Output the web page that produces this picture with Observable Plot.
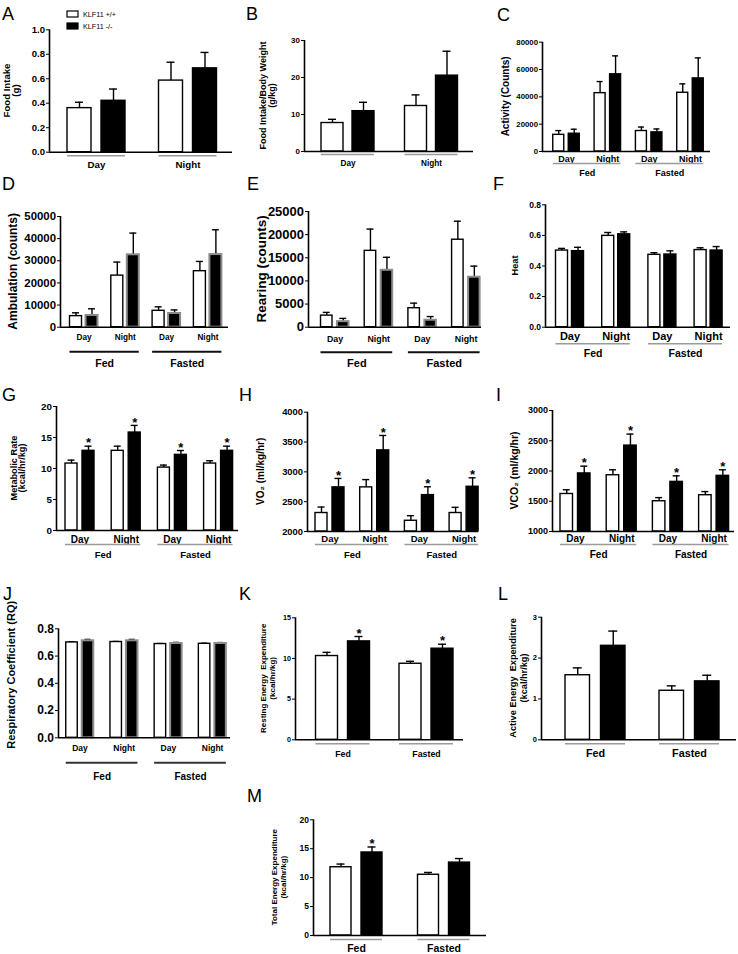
<!DOCTYPE html>
<html><head><meta charset="utf-8">
<script src="https://cdn.jsdelivr.net/npm/d3@7"></script>
<script src="https://cdn.jsdelivr.net/npm/@observablehq/plot@0.6"></script>
<style>
body{margin:0;background:#fff;}
#fig{position:relative;width:738px;height:954px;overflow:hidden;background:#fff;font-family:"Liberation Sans",Arial,sans-serif;}
.panel{position:absolute;}
.panel svg{overflow:visible;max-width:none;}
#overlay{position:absolute;left:0;top:0;pointer-events:none;}
</style></head><body><div id="fig"></div>
<script>
const FONT = '"Liberation Sans", Arial, Helvetica, sans-serif';

// ---- shared categories ----
const genotypes = ["KLF11 +/+", "KLF11 -/-"];
const periods = ["Day", "Night"];
const feedStates = ["Fed", "Fasted"];
const periods4 = ["Day", "Night", "Day", "Night"];

// ---- A: Food intake (g) ----
const A_wt = [0.36, 0.585], A_wtErr = [0.048, 0.15];
const A_ko = [0.42, 0.685], A_koErr = [0.096, 0.13];
const A_ticks = [0, 0.2, 0.4, 0.6, 0.8, 1.0];
// ---- B: Food intake / body weight ----
const B_wt = [7.7, 12.3], B_wtErr = [1.0, 3.0];
const B_ko = [10.9, 20.5], B_koErr = [2.4, 6.6];
const B_ticks = [0, 10, 20, 30];
// ---- C: Activity ----
const C_wt = [12200, 42700, 15000, 43000], C_wtErr = [3100, 8500, 2900, 6500];
const C_ko = [13000, 56500, 14000, 53500], C_koErr = [3300, 13500, 2500, 15000];
const C_ticks = [0, 20000, 40000, 60000, 80000];
// ---- D: Ambulation ----
const D_wt = [5000, 23300, 7400, 25300], D_wtErr = [1500, 6100, 1800, 4400];
const D_ko = [5300, 32700, 6200, 32800], D_koErr = [3000, 9800, 1600, 11200];
const D_ticks = [0, 10000, 20000, 30000, 40000, 50000];
// ---- E: Rearing ----
const E_wt = [2500, 16500, 4100, 18900], E_wtErr = [700, 4700, 1100, 4000];
const E_ko = [1200, 12300, 1500, 10800], E_koErr = [700, 2800, 800, 2400];
const E_ticks = [0, 5000, 10000, 15000, 20000, 25000];
// ---- F: Heat ----
const F_wt = [0.501, 0.597, 0.473, 0.504], F_wtErr = [0.014, 0.022, 0.014, 0.015];
const F_ko = [0.497, 0.607, 0.475, 0.501], F_koErr = [0.025, 0.016, 0.024, 0.026];
const F_ticks = [0, 0.2, 0.4, 0.6, 0.8];
// ---- G: Metabolic rate ----
const G_wt = [10.8, 12.85, 10.15, 10.8], G_wtErr = [0.55, 0.75, 0.4, 0.45];
const G_ko = [12.85, 15.8, 12.2, 12.85], G_koErr = [0.75, 1.15, 0.7, 0.75];
const G_stars = [true, true, true, true];
const G_ticks = [0, 5, 10, 15, 20];
// ---- H: VO2 ----
const H_wt = [2310, 2740, 2180, 2310], H_wtErr = [100, 130, 85, 95];
const H_ko = [2740, 3360, 2610, 2750], H_koErr = [150, 250, 140, 150];
const H_stars = [true, true, true, true];
const H_ticks = [2000, 2500, 3000, 3500, 4000];
// ---- I: VCO2 ----
const I_wt = [1620, 1930, 1500, 1600], I_wtErr = [70, 90, 60, 60];
const I_ko = [1960, 2420, 1820, 1920], I_koErr = [120, 190, 100, 100];
const I_stars = [true, true, true, true];
const I_ticks = [1000, 1500, 2000, 2500, 3000];
// ---- J: RQ ----
const J_wt = [0.700, 0.703, 0.688, 0.690], J_wtErr = [0.005, 0.004, 0.004, 0.004];
const J_ko = [0.712, 0.712, 0.692, 0.692], J_koErr = [0.010, 0.010, 0.008, 0.007];
const J_ticks = [0, 0.2, 0.4, 0.6, 0.8];
// ---- K: Resting EE ----
const K_wt = [10.3, 9.35], K_wtErr = [0.45, 0.3];
const K_ko = [12.1, 11.2], K_koErr = [0.6, 0.55];
const K_stars = [true, true];
const K_ticks = [0, 5, 10, 15];
// ---- L: Active EE ----
const L_wt = [1.58, 1.2], L_wtErr = [0.18, 0.12];
const L_ko = [2.3, 1.43], L_koErr = [0.36, 0.15];
const L_ticks = [0, 1, 2, 3];
// ---- M: Total EE ----
const M_wt = [11.8, 10.5], M_wtErr = [0.55, 0.4];
const M_ko = [14.35, 12.6], M_koErr = [0.95, 0.7];
const M_stars = [true, false];
const M_ticks = [0, 5, 10, 15, 20];

const f1 = d3.format(".1f"), f0 = d3.format("d");

const panels = [
  {id:"A", conds: periods, wt:A_wt, wtErr:A_wtErr, ko:A_ko, koErr:A_koErr, domain:[0,1], ticks:A_ticks, fmt:f1, ylabel:["Food Intake","(g)"],
   L:{left:0, axisX:49, endX:232, yTop:29.3, yBot:151.7, c0:96, sp:91.5, barW:24, gap:10, cap:8, tickFs:9.6, ylabX:11, ylabFs:9.6, lh:0.92, condFs:9.7, condDy:12.5, ulDy:3.5, ulColor:"#9a9a9a", ulW:1.5}},
  {id:"B", conds: periods, wt:B_wt, wtErr:B_wtErr, ko:B_ko, koErr:B_koErr, domain:[0,30], ticks:B_ticks, fmt:f0, ylabel:["Food Intake/Body Weight","(g/kg)"],
   L:{left:246, axisX:304, endX:473, yTop:40, yBot:151, c0:347.5, sp:83.5, barW:22, gap:9, cap:8, tickFs:8, ylabX:267.5, ylabFs:9, lh:1.05, condFs:8.2, condDy:12, ulDy:3, ulColor:"#9a9a9a", ulW:1.5}},
  {id:"C", conds: periods4, groups: feedStates, wt:C_wt, wtErr:C_wtErr, ko:C_ko, koErr:C_koErr, domain:[0,80000], ticks:C_ticks, fmt:f0, ylabel:["Activity (Counts)"],
   L:{left:492, axisX:542, endX:710, yTop:41.7, yBot:151, c0:566, sp:41.33, barW:11, gap:4.5, cap:6, tickFs:7.8, ylabX:505, ylabFs:10, condFs:9, condDy:7.5, ulDy:12, ulColor:"#9a9a9a", ulW:1.5, grpFs:9, grpDy:22}},
  {id:"D", conds: periods4, groups: feedStates, wt:D_wt, wtErr:D_wtErr, ko:D_ko, koErr:D_koErr, domain:[0,50000], ticks:D_ticks, fmt:f0, ylabel:["Ambulation (counts)"],
   L:{left:0, axisX:60, endX:228, yTop:216, yBot:326.7, c0:83.5, sp:41.3, barW:12, gap:4, cap:7, grayEdge:true, tickFs:11.4, ylabX:12.5, ylabFs:12, condFs:8.2, condDy:10.5, ulDy:24.5, ulColor:"#111", ulW:2, grpFs:10.5, grpDy:36.5}},
  {id:"E", conds: periods4, groups: feedStates, wt:E_wt, wtErr:E_wtErr, ko:E_ko, koErr:E_koErr, domain:[0,25000], ticks:E_ticks, fmt:f0, ylabel:["Rearing (counts)"],
   L:{left:246, axisX:308, endX:481, yTop:211, yBot:326.7, c0:334.5, sp:43.7, barW:11.5, gap:5, cap:7, grayEdge:true, tickFs:13, ylabX:261, ylabFs:13.5, condFs:8.8, condDy:11.5, ulDy:25, ulColor:"#111", ulW:2, grpFs:11, grpDy:36.5}},
  {id:"F", conds: periods4, groups: feedStates, wt:F_wt, wtErr:F_wtErr, ko:F_ko, koErr:F_koErr, domain:[0,0.8], ticks:F_ticks, fmt:f1, ylabel:["Heat"],
   L:{left:492, axisX:545, endX:730, yTop:204.3, yBot:326.7, c0:569.5, sp:46.2, barW:12, gap:4, cap:7, tickFs:8.5, ylabX:515, ylabFs:9.2, condFs:11, condDy:9.5, ulDy:16.5, ulColor:"#9a9a9a", ulW:1.5, grpFs:10.5, grpDy:26.5}},
  {id:"G", conds: periods4, groups: feedStates, wt:G_wt, wtErr:G_wtErr, ko:G_ko, koErr:G_koErr, stars:G_stars, domain:[0,20], ticks:G_ticks, fmt:f0, ylabel:["Metabolic Rate","(kcal/hr/kg)"],
   L:{left:0, axisX:56, endX:238, yTop:406, yBot:530, c0:79.5, sp:46.2, barW:12, gap:5, cap:7, tickFs:9.8, ylabX:17.5, ylabFs:9.2, lh:0.92, condFs:10, condDy:9, ulDy:14, ulColor:"#9a9a9a", ulW:1.5, grpFs:9.5, grpDy:24}},
  {id:"H", conds: periods4, groups: feedStates, wt:H_wt, wtErr:H_wtErr, ko:H_ko, koErr:H_koErr, stars:H_stars, domain:[2000,4000], ticks:H_ticks, fmt:f0, ylabel:["VO\u2082 (ml/kg/hr)"],
   L:{left:246, axisX:307, endX:478, yTop:411.7, yBot:531, c0:329.5, sp:44.7, barW:12, gap:5, cap:7, tickFs:9.4, ylabX:260, ylabFs:10, condFs:9.5, condDy:7, ulDy:13, ulColor:"#9a9a9a", ulW:1.5, grpFs:9.5, grpDy:23}},
  {id:"I", conds: periods4, groups: feedStates, wt:I_wt, wtErr:I_wtErr, ko:I_ko, koErr:I_koErr, stars:I_stars, domain:[1000,3000], ticks:I_ticks, fmt:f0, ylabel:["VCO\u2082 (ml/kg/hr)"],
   L:{left:492, axisX:552, endX:734, yTop:410, yBot:531, c0:575, sp:46.2, barW:12.5, gap:5, cap:7, tickFs:9, ylabX:514, ylabFs:10.5, condFs:10, condDy:7.5, ulDy:13, ulColor:"#9a9a9a", ulW:1.5, grpFs:10, grpDy:23}},
  {id:"J", conds: periods4, groups: feedStates, wt:J_wt, wtErr:J_wtErr, ko:J_ko, koErr:J_koErr, domain:[0,0.8], ticks:J_ticks, fmt:f1, ylabel:["Respiratory Coefficient (RQ)"],
   L:{left:0, axisX:58, endX:230, yTop:628.3, yBot:737.3, c0:79.5, sp:44.2, barW:11.5, gap:4.5, cap:6, grayEdge:true, tickFs:12, ylabX:11, ylabFs:11, ylabDy:-8, condFs:8.5, condDy:10, ulDy:25, ulColor:"#333", ulW:2, grpFs:10, grpDy:39}},
  {id:"K", conds: feedStates, wt:K_wt, wtErr:K_wtErr, ko:K_ko, koErr:K_koErr, stars:K_stars, domain:[0,15], ticks:K_ticks, fmt:f0, ylabel:["Resting Energy\u00a0 Expenditure","(kcal/hr/kg)"],
   L:{left:246, axisX:295, endX:463, yTop:617.3, yBot:739.3, c0:342.5, sp:83.5, barW:22, gap:10, cap:8, tickFs:7.2, ylabX:267.5, ylabFs:8, lh:1.1, condFs:8.8, condDy:14, ulDy:4, ulColor:"#9a9a9a", ulW:1.5}},
  {id:"L", conds: feedStates, wt:L_wt, wtErr:L_wtErr, ko:L_ko, koErr:L_koErr, domain:[0,3], ticks:L_ticks, fmt:f0, ylabel:["Active Energy\u00a0 Expenditure","(kcal/hr/kg)"],
   L:{left:492, axisX:541, endX:736, yTop:616.7, yBot:739.3, c0:595, sp:94, barW:24.5, gap:11, cap:9, tickFs:7.5, ylabX:518.5, ylabFs:9.2, lh:1.2, condFs:10.8, condDy:14, ulDy:4, ulColor:"#9a9a9a", ulW:1.5}},
  {id:"M", conds: feedStates, wt:M_wt, wtErr:M_wtErr, ko:M_ko, koErr:M_koErr, stars:M_stars, domain:[0,20], ticks:M_ticks, fmt:f0, ylabel:["Total Energy Expenditure","(kcal/hr/kg)"],
   L:{left:246, axisX:313, endX:486, yTop:819.3, yBot:935, c0:356, sp:87.5, barW:21, gap:10, cap:8, tickFs:8.5, ylabX:278.5, ylabFs:8, lh:1.15, condFs:10.5, condDy:13, ulDy:4, ulColor:"#9a9a9a", ulW:1.5}}
];

const fig = document.getElementById("fig");

function drawPanel(p) {
  const L = p.L;
  const sp = L.sp;
  const half = L.gap / 2 / sp, bw = L.barW / sp, cap = L.cap / 2 / sp;
  const xlo = 0.5 + (L.axisX - L.c0) / sp;
  const xhi = 0.5 + (L.endX - L.c0) / sp;
  const y0 = p.domain[0], y1 = p.domain[1];
  const bars = [];
  p.conds.forEach((c, i) => {
    bars.push({g: genotypes[0], v: p.wt[i], e: p.wtErr[i], star: false, x1: i + 0.5 - half - bw, x2: i + 0.5 - half});
    bars.push({g: genotypes[1], v: p.ko[i], e: p.koErr[i], star: !!(p.stars && p.stars[i]), x1: i + 0.5 + half, x2: i + 0.5 + half + bw});
  });
  bars.forEach(b => { b.xc = (b.x1 + b.x2) / 2; b.top = b.v + b.e; });
  const pairL = i => i + 0.5 - half - bw, pairR = i => i + 0.5 + half + bw;
  const top = Math.floor(L.yTop - 24);
  const mL = L.axisX - L.left, mT = L.yTop - top, mB = 50, mR = 4;
  const width = L.endX + mR - L.left;
  const height = L.yBot + mB - top;

  const marks = [
    Plot.ruleX(bars, {x: "xc", y1: "v", y2: "top", stroke: "black", strokeWidth: 1.4}),
    Plot.ruleY(bars, {y: "top", x1: b => b.xc - cap, x2: b => b.xc + cap, stroke: "black", strokeWidth: 1.4}),
    Plot.rect(bars.filter(b => b.g === genotypes[0]), {x1: "x1", x2: "x2", y1: y0, y2: "v", fill: "white", stroke: "black", strokeWidth: 1.4}),
    Plot.rect(bars.filter(b => b.g === genotypes[1]), {x1: "x1", x2: "x2", y1: y0, y2: "v", fill: "black",
      stroke: L.grayEdge ? "#8c8c8c" : "black", strokeWidth: L.grayEdge ? 2 : 1.4}),
    Plot.text(bars.filter(b => b.star), {x: "xc", y: "top", text: () => "*", dy: -3, fontSize: 13, fontWeight: "bold"}),
    Plot.ruleX([xlo], {y1: y0, y2: y1, stroke: "black", strokeWidth: 1.6}),
    Plot.ruleY([y0], {x1: xlo, x2: xhi, stroke: "black", strokeWidth: 1.6}),
    Plot.text(p.conds, {x: (d, i) => i + 0.5, y: y0, text: d => d, dy: L.condDy, fontSize: L.condFs, fontWeight: "bold"})
  ];
  if (p.groups) {
    marks.push(
      Plot.ruleY(p.groups, {y: y0, x1: (d, g) => pairL(2 * g), x2: (d, g) => pairR(2 * g + 1), dy: L.ulDy, stroke: L.ulColor, strokeWidth: L.ulW}),
      Plot.text(p.groups, {x: (d, g) => 2 * g + 1, y: y0, text: d => d, dy: L.grpDy, fontSize: L.grpFs, fontWeight: "bold"})
    );
  } else {
    marks.push(
      Plot.ruleY(p.conds, {y: y0, x1: (d, i) => pairL(i), x2: (d, i) => pairR(i), dy: L.ulDy, stroke: L.ulColor, strokeWidth: L.ulW})
    );
  }

  const chart = Plot.plot({
    width, height,
    marginLeft: mL, marginTop: mT, marginBottom: mB, marginRight: mR,
    x: {domain: [xlo, xhi], axis: null},
    y: {domain: p.domain, ticks: p.ticks, tickFormat: p.fmt, tickSize: 3, tickPadding: 1.5, label: null},
    style: {fontFamily: FONT, fontSize: L.tickFs + "px", fontWeight: "bold", background: "transparent", overflow: "visible", color: "black"},
    marks
  });
  const div = document.createElement("div");
  div.className = "panel";
  div.style.left = L.left + "px";
  div.style.top = top + "px";
  div.appendChild(chart);
  fig.appendChild(div);
}

panels.forEach(drawPanel);

// overlay: panel letters, y-axis titles, legend
const svg = d3.select(fig).append("svg").attr("id", "overlay").attr("width", 738).attr("height", 954)
  .style("font-family", FONT);

panels.forEach(p => {
  const L = p.L;
  const mid = (L.yTop + L.yBot) / 2 + (L.ylabDy || 0);
  const lh = (L.lh || 1) * L.ylabFs;
  const n = p.ylabel.length;
  const g = svg.append("g").attr("transform", `translate(${L.ylabX},${mid}) rotate(-90)`);
  p.ylabel.forEach((line, k) => {
    g.append("text").attr("x", 0).attr("y", (k - (n - 1) / 2) * lh).attr("dy", "0.35em")
      .attr("text-anchor", "middle").attr("font-size", L.ylabFs).attr("font-weight", "bold").text(line);
  });
});

const letters = [
  {t:"A", x:2, y:20}, {t:"B", x:246, y:20}, {t:"C", x:497, y:21},
  {t:"D", x:2, y:190}, {t:"E", x:247, y:190}, {t:"F", x:493, y:190},
  {t:"G", x:2, y:401}, {t:"H", x:239, y:401}, {t:"I", x:496, y:401},
  {t:"J", x:3, y:600}, {t:"K", x:239, y:600}, {t:"L", x:498, y:600},
  {t:"M", x:247, y:802}
];
svg.selectAll("text.letter").data(letters).join("text").attr("class", "letter")
  .attr("x", d => d.x).attr("y", d => d.y).attr("font-size", 18).text(d => d.t);

const leg = svg.append("g");
genotypes.forEach((g, i) => {
  leg.append("rect").attr("x", 67).attr("y", 11 + i * 12).attr("width", 11).attr("height", 6)
    .attr("fill", i ? "black" : "white").attr("stroke", "black").attr("stroke-width", 1.2);
  leg.append("text").attr("x", 83).attr("y", 14 + i * 12).attr("dy", "0.35em").attr("font-size", 7.2).text(g);
});
</script></body></html>
